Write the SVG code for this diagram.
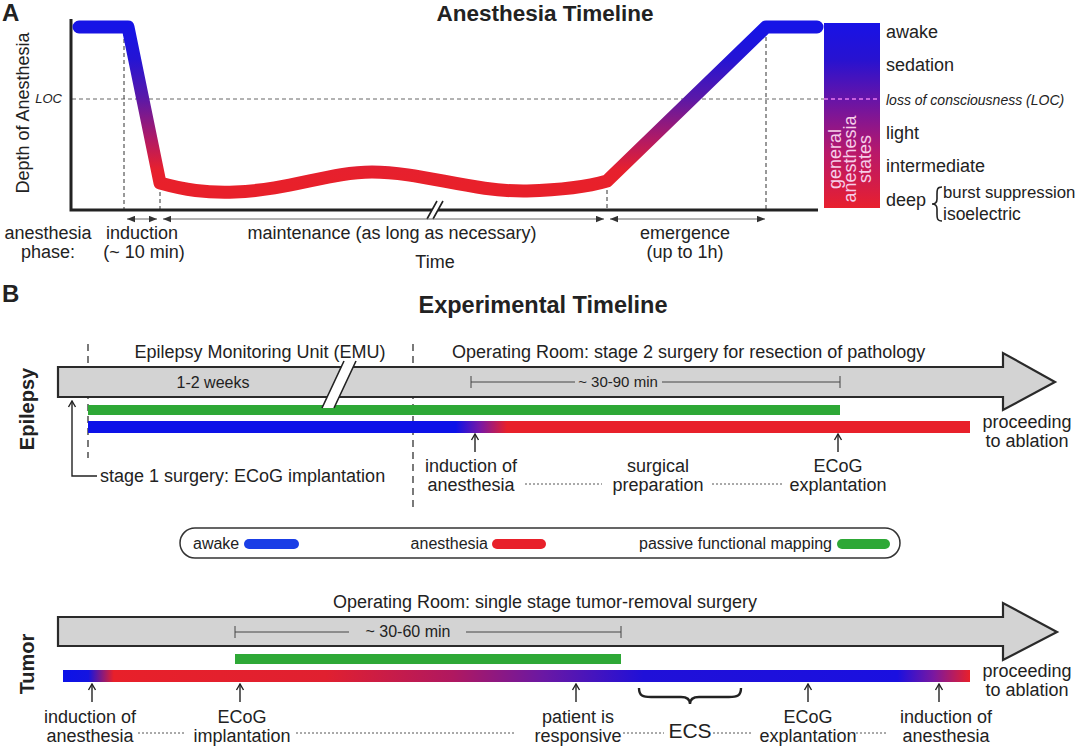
<svg xmlns="http://www.w3.org/2000/svg" width="1080" height="746" viewBox="0 0 1080 746">
<style>
text{font-family:"Liberation Sans",Arial,Helvetica,sans-serif;fill:#222}
.t{font-size:18px}
.s{font-size:16px}
.m{font-size:15px}
.c{text-anchor:middle}
.e{text-anchor:end}
.h{font-weight:bold}
.ln{stroke:#222;fill:none}
.dv{stroke:#333;stroke-width:1.1;stroke-dasharray:4,3;fill:none}
.dt{stroke:#555;stroke-width:1;stroke-dasharray:2,2;fill:none}
.ar{stroke:#222;stroke-width:1.4;fill:none}
.big{fill:#d3d3d3;stroke:#2a2a2a;stroke-width:2.2}
.ph{stroke:#666;stroke-width:1;fill:none}
</style>
<defs>
<linearGradient id="curveGrad" gradientUnits="userSpaceOnUse" x1="0" y1="27" x2="0" y2="185">
<stop offset="0" stop-color="#1614e6"/>
<stop offset="0.2" stop-color="#2414d4"/>
<stop offset="0.45" stop-color="#5a18a8"/>
<stop offset="0.72" stop-color="#b41a62"/>
<stop offset="0.9" stop-color="#e6202e"/>
<stop offset="1" stop-color="#e8202a"/>
</linearGradient>
<linearGradient id="barGrad" gradientUnits="userSpaceOnUse" x1="0" y1="23" x2="0" y2="208">
<stop offset="0" stop-color="#1812e6"/>
<stop offset="0.2" stop-color="#2812d0"/>
<stop offset="0.41" stop-color="#6614a8"/>
<stop offset="0.7" stop-color="#b8186a"/>
<stop offset="1" stop-color="#e8202e"/>
</linearGradient>
<linearGradient id="epiGrad" gradientUnits="userSpaceOnUse" x1="88" y1="0" x2="970" y2="0">
<stop offset="0" stop-color="#0c12e8"/>
<stop offset="0.417" stop-color="#0c12e8"/>
<stop offset="0.445" stop-color="#7a18a4"/>
<stop offset="0.475" stop-color="#e8202a"/>
<stop offset="1" stop-color="#e8202a"/>
</linearGradient>
<linearGradient id="tumGrad" gradientUnits="userSpaceOnUse" x1="63" y1="0" x2="970" y2="0">
<stop offset="0" stop-color="#0c12e8"/>
<stop offset="0.028" stop-color="#1414e0"/>
<stop offset="0.056" stop-color="#e8202a"/>
<stop offset="0.29" stop-color="#e02030"/>
<stop offset="0.43" stop-color="#b01860"/>
<stop offset="0.53" stop-color="#6a18a4"/>
<stop offset="0.64" stop-color="#2010d8"/>
<stop offset="0.92" stop-color="#1a10e0"/>
<stop offset="0.96" stop-color="#7a18a0"/>
<stop offset="1" stop-color="#e8202a"/>
</linearGradient>
<marker id="open" markerUnits="userSpaceOnUse" markerWidth="10" markerHeight="10" viewBox="0 0 10 10" refX="9" refY="5" orient="auto">
<path d="M3,1.5 L9,5 L3,8.5" fill="none" stroke="#222" stroke-width="1.4"/>
</marker>
<marker id="tri" markerUnits="userSpaceOnUse" markerWidth="8" markerHeight="7" viewBox="0 0 10 8" refX="10" refY="4" orient="auto-start-reverse">
<path d="M0,0 L10,4 L0,8 Z" fill="#333"/>
</marker>
</defs>

<!-- Panel A -->
<g id="panelA">
<text x="2" y="21" class="h" style="font-size:24px">A</text>
<text x="545" y="21" class="h c" style="font-size:22.5px">Anesthesia Timeline</text>
<text class="t c" transform="translate(29,113) rotate(-90)">Depth of Anesthesia</text>
<text x="62" y="103" class="e" style="font-size:13px;font-style:italic">LOC</text>
</g>

<g id="guides">
<path class="dv" d="M72,99 H824" style="stroke:#666;stroke-width:1"/>
<path class="dv" d="M124,32 V210 M160,185 V210 M607,183 V210 M766,30 V210" style="stroke-width:1"/>
</g>

<g id="axes">
<path class="ln" d="M71,19 V210 H818" stroke-width="3"/>
<polygon points="427,219 437,201 443,201 433,219" fill="#fff"/>
<path class="ln" stroke-width="1.6" d="M427,219 L437,201 M433,219 L443,201"/>
</g>

<g id="curve">
<path d="M79,27 L128,27 L160,183 C185,190 205,193 235,192 C290,190 330,172 372,172 C422,172 472,192 527,191 C562,190 590,186 607,181 L766,27 L817,27" fill="none" stroke="url(#curveGrad)" stroke-width="13" stroke-linejoin="round" stroke-linecap="round"/>
</g>

<g id="phases">
<line x1="127" y1="219" x2="157" y2="219" class="ph" marker-start="url(#tri)" marker-end="url(#tri)"/>
<line x1="163" y1="219" x2="604" y2="219" class="ph" marker-start="url(#tri)" marker-end="url(#tri)"/>
<line x1="610" y1="219" x2="765" y2="219" class="ph" marker-start="url(#tri)" marker-end="url(#tri)"/>
<text x="48" y="239" class="t c">anesthesia</text>
<text x="48" y="258" class="t c">phase:</text>
<text x="142" y="239" class="t c">induction</text>
<text x="144" y="258" class="t c">(~ 10 min)</text>
<text x="392" y="239" class="t c">maintenance (as long as necessary)</text>
<text x="435" y="268" class="t c">Time</text>
<text x="685" y="239" class="t c">emergence</text>
<text x="685" y="258" class="t c">(up to 1h)</text>
</g>

<g id="stateBar">
<rect x="824" y="23" width="56" height="185" fill="url(#barGrad)"/>
<path class="dv" d="M824,99 H880" style="stroke:#e878f0;stroke-width:1.3"/>
<g transform="translate(852,159) rotate(-90)" style="font-size:18px">
<text x="0" y="-11" class="c" style="fill:#f6cde8">general</text>
<text x="0" y="4" class="c" style="fill:#f6cde8">anesthesia</text>
<text x="0" y="19" class="c" style="fill:#f6cde8">states</text>
</g>
</g>

<g id="stateLabels">
<text x="886" y="38" class="t">awake</text>
<text x="886" y="71" class="t">sedation</text>
<text x="886" y="105" style="font-size:14px;font-style:italic">loss of consciousness (LOC)</text>
<text x="886" y="139" class="t">light</text>
<text x="886" y="172" class="t">intermediate</text>
<text x="886" y="206" class="t">deep</text>
<path class="ln" stroke-width="1.6" d="M942,187 C937,187 937,190 937,194 L937,199 C937,203 935,204 932,204 C935,204 937,205 937,209 L937,214 C937,218 937,221 942,221"/>
<text x="943" y="198" style="font-size:16.8px">burst suppression</text>
<text x="943" y="220" style="font-size:17.5px">isoelectric</text>
</g>

<!-- Panel B -->
<g id="panelB">
<text x="2" y="302" class="h" style="font-size:24px">B</text>
<text x="543" y="313" class="h c" style="font-size:23.5px">Experimental Timeline</text>
<text class="h c" style="font-size:20px" transform="translate(34,409) rotate(-90)">Epilepsy</text>
<text class="h c" style="font-size:20px" transform="translate(34,664) rotate(-90)">Tumor</text>
</g>

<g id="epilepsy">
<path class="dv" d="M88,344 V458 M413,344 V508" style="stroke-dasharray:7,5;stroke-width:1.3"/>
<text x="260" y="358" class="t c">Epilepsy Monitoring Unit (EMU)</text>
<text x="452" y="358" class="t">Operating Room: stage 2 surgery for resection of pathology</text>
<polygon class="big" points="58,367 1003,367 1003,353 1055,382 1003,410 1003,397 58,397"/>
<text x="213" y="388" class="s c">1-2 weeks</text>
<path class="ln" stroke-width="1" d="M471,382 H575 M662,382 H840 M471,376 V388 M840,376 V388" style="stroke:#444"/>
<text x="618" y="387" class="m c">~ 30-90 min</text>
<line x1="88" y1="410" x2="840" y2="410" stroke="#2ea836" stroke-width="10"/>
<line x1="88" y1="427" x2="970" y2="427" stroke="url(#epiGrad)" stroke-width="12"/>
<polygon points="322,408 344,361 356,361 334,408" fill="#fff"/>
<path class="ln" stroke-width="1.6" d="M322,408 L344,361 M334,408 L356,361"/>
<path class="ar" d="M97,476 H72 V401" stroke-width="1.6" marker-end="url(#open)"/>
<text x="100" y="482" class="t">stage 1 surgery: ECoG implantation</text>
<line x1="475" y1="452" x2="475" y2="434" class="ar" marker-end="url(#open)"/>
<line x1="838" y1="452" x2="838" y2="434" class="ar" marker-end="url(#open)"/>
<text x="471" y="472" class="t c">induction of</text>
<text x="471" y="491" class="t c">anesthesia</text>
<path class="dt" d="M525,484 H602 M712,484 H782"/>
<text x="658" y="472" class="t c">surgical</text>
<text x="658" y="491" class="t c">preparation</text>
<text x="838" y="472" class="t c">ECoG</text>
<text x="838" y="491" class="t c">explantation</text>
<text x="1027" y="428" class="t c">proceeding</text>
<text x="1027" y="447" class="t c">to ablation</text>
</g>

<g id="legend">
<rect x="180" y="528" width="720" height="30" rx="15" fill="none" stroke="#333" stroke-width="1.5"/>
<text x="193" y="549" class="s">awake</text>
<line x1="249" y1="544" x2="294" y2="544" stroke="#1a3ee6" stroke-width="10" stroke-linecap="round"/>
<text x="488" y="549" class="s e">anesthesia</text>
<line x1="497" y1="544" x2="541" y2="544" stroke="#e8202a" stroke-width="10" stroke-linecap="round"/>
<text x="832" y="549" class="s e">passive functional mapping</text>
<line x1="842" y1="544" x2="885" y2="544" stroke="#2ea836" stroke-width="10" stroke-linecap="round"/>
</g>

<g id="tumor">
<text x="545" y="608" class="t c">Operating Room: single stage tumor-removal surgery</text>
<polygon class="big" points="58,617 1003,617 1003,603 1057,632 1003,660 1003,646 58,646"/>
<path class="ln" stroke-width="1" d="M235,632 H349 M466,632 H621 M235,626 V638 M621,626 V638" style="stroke:#444"/>
<text x="408" y="637" class="s c">~ 30-60 min</text>
<line x1="235" y1="659" x2="621" y2="659" stroke="#2ea836" stroke-width="10"/>
<line x1="63" y1="676" x2="970" y2="676" stroke="url(#tumGrad)" stroke-width="12"/>
<line x1="92" y1="702" x2="92" y2="684" class="ar" marker-end="url(#open)"/>
<line x1="240" y1="702" x2="240" y2="684" class="ar" marker-end="url(#open)"/>
<line x1="576" y1="702" x2="576" y2="684" class="ar" marker-end="url(#open)"/>
<line x1="808" y1="702" x2="808" y2="684" class="ar" marker-end="url(#open)"/>
<line x1="939" y1="702" x2="939" y2="684" class="ar" marker-end="url(#open)"/>
<text x="90" y="723" class="t c">induction of</text>
<text x="90" y="742" class="t c">anesthesia</text>
<text x="242" y="723" class="t c">ECoG</text>
<text x="242" y="742" class="t c">implantation</text>
<text x="578" y="723" class="t c">patient is</text>
<text x="578" y="742" class="t c">responsive</text>
<path class="ln" stroke-width="2.4" d="M639,688 C639,696 643,697 651,697 L681,697 C687,697 690,699 690,704 C690,699 693,697 699,697 L729,697 C737,697 741,696 741,688"/>
<text x="690" y="738" class="c" style="font-size:21px">ECS</text>
<text x="808" y="723" class="t c">ECoG</text>
<text x="808" y="742" class="t c">explantation</text>
<text x="946" y="723" class="t c">induction of</text>
<text x="946" y="742" class="t c">anesthesia</text>
<path class="dt" d="M138,733 H184 M296,733 H514 M623,733 H664 M713,733 H752 M852,733 H887"/>
<text x="1027" y="677" class="t c">proceeding</text>
<text x="1027" y="696" class="t c">to ablation</text>
</g>
</svg>
